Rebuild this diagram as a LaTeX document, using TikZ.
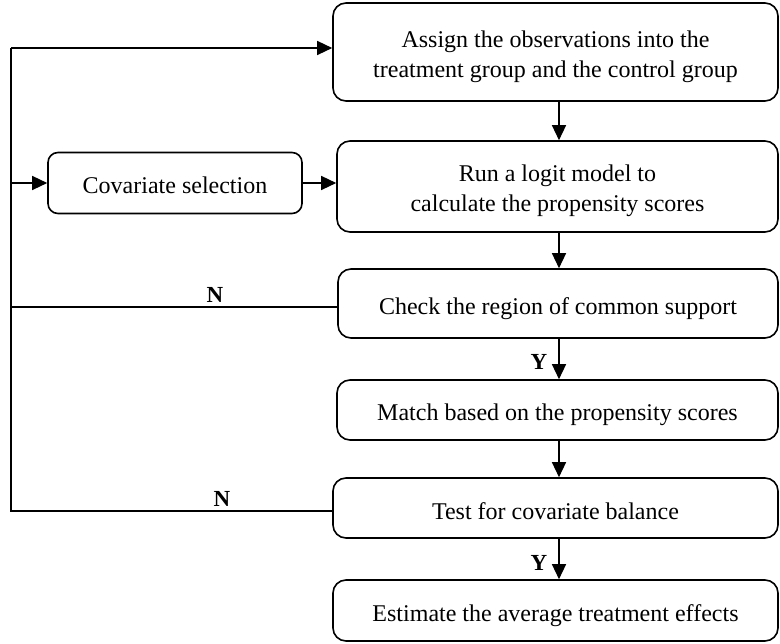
\documentclass[tikz,border=0pt]{standalone}
\usepackage{fontspec}
\setmainfont{Liberation Serif}
\usetikzlibrary{arrows.meta}
\begin{document}
\begin{tikzpicture}[x=1pt,y=-1pt,
  box/.style={draw, line width=1.6pt, rounded corners=13pt, inner sep=0pt, align=center,
    font=\fontsize{24}{30}\selectfont},
  one/.style={text height=22pt, text depth=0pt},
  two/.style={text height=51pt, text depth=0pt},
  conn/.style={line width=1.4pt},
  arr/.style={conn, -{Triangle[width=14pt,length=15pt]}},
  lbl/.style={font=\bfseries\fontsize{23}{26}\selectfont, inner sep=0pt}]
\useasboundingbox (0,0) rectangle (780,644);
\node[box, two, minimum width=445pt, minimum height=98pt] (b1) at (555.5,52) {Assign the observations into the\\treatment group and the control group};
\node[box, two, minimum width=441pt, minimum height=91pt] (b2) at (557.5,186.5) {Run a logit model to\\calculate the propensity scores};
\node[box, one, minimum width=440pt, minimum height=69pt] (b3) at (558,303.5) {Check the region of common support};
\node[box, one, minimum width=441pt, minimum height=60pt] (b4) at (557.5,410) {Match based on the propensity scores};
\node[box, one, minimum width=445pt, minimum height=60pt] (b5) at (555.5,508) {Test for covariate balance};
\node[box, one, minimum width=445pt, minimum height=61pt] (b6) at (555.5,610.5) {Estimate the average treatment effects};
\node[box, one, minimum width=254pt, minimum height=61pt, rounded corners=10pt] (cov) at (175,183) {Covariate selection};
\coordinate (ax) at (559,0);
\coordinate (Ltop) at (11,48);
\coordinate (Lcov) at (11,183);
\coordinate (L3) at (11,307);
\coordinate (L5) at (11,511);
% vertical arrows
\draw[arr] (b1.south -| ax) -- (b2.north -| ax);
\draw[arr] (b2.south -| ax) -- (b3.north -| ax);
\draw[arr] (b3.south -| ax) -- (b4.north -| ax);
\draw[arr] (b4.south -| ax) -- (b5.north -| ax);
\draw[arr] (b5.south -| ax) -- (b6.north -| ax);
% feedback lines
\draw[conn] (L3 -| b3.west) -- (L3);
\draw[conn] (L5 -| b5.west) -- (L5) -- (Ltop);
\draw[arr] (Ltop) -- (Ltop -| b1.west);
\draw[arr] (Lcov) -- (Lcov -| cov.west);
\draw[arr] (cov.east) -- (cov.east -| b2.west);
% labels
\node[lbl] (n1) at (215,295) {N};
\node[lbl] (n2) at (222,499) {N};
\node[lbl] (y1) at (539,362) {Y};
\node[lbl] (y2) at (539,563) {Y};
\end{tikzpicture}
\end{document}
